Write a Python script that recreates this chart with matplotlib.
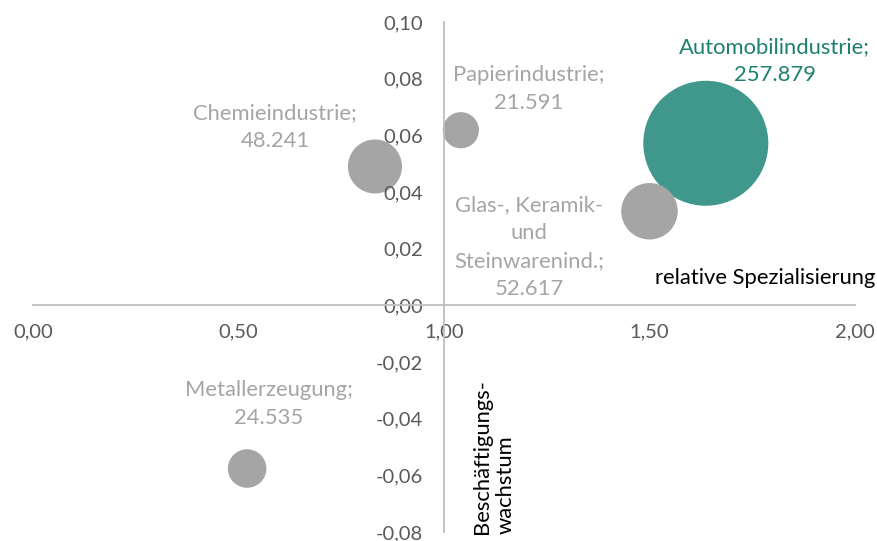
import numpy as np
import matplotlib.pyplot as plt

plt.rcParams['font.family'] = ['Lato', 'DejaVu Sans']

# Branchen: relative Spezialisierung (x), Beschaeftigungswachstum (y), Beschaeftigte (Blasengroesse)
branchen = ['Chemieindustrie', 'Papierindustrie', 'Glas-, Keramik-\nund\nSteinwarenind.',
            'Metallerzeugung', 'Automobilindustrie']
spezialisierung = [0.832, 1.041, 1.50, 0.521, 1.637]
wachstum = [0.0490, 0.0618, 0.0332, -0.0576, 0.0572]
beschaeftigte = [48241, 21591, 52617, 24535, 257879]
farben = ['#A5A5A5', '#A5A5A5', '#A5A5A5', '#A5A5A5', '#40988D']
textfarben = ['#A5A5A5', '#A5A5A5', '#A5A5A5', '#A5A5A5', '#1E8070']

# Versatz der Beschriftungen relativ zur Blase (in Punkten)
label_offset = [(-72, 28.5), (49, 29.5), (-86.5, -25.5), (15.5, 46.5), (49.5, 59)]

W, H = 878, 541
fig = plt.figure(figsize=(W / 100, H / 100), dpi=100)
ax = fig.add_axes([33 / W, 1 - 532 / H, (855 - 33) / W, (532 - 22) / H])

ax.set_xlim(0, 2)
ax.set_ylim(-0.08, 0.10)

# Flaeche proportional zur Anzahl Beschaeftigte
s_max = 8100
groessen = [s_max * b / max(beschaeftigte) for b in beschaeftigte]
order = [4, 0, 1, 2, 3]
for i in order:
    ax.scatter(spezialisierung[i], wachstum[i], s=groessen[i], color=farben[i],
               edgecolors='none', zorder=1)

def fmt(v):
    return f'{v:,}'.replace(',', '.')

for i, name in enumerate(branchen):
    dx, dy = label_offset[i]
    ax.annotate(f'{name};\n{fmt(beschaeftigte[i])}', (spezialisierung[i], wachstum[i]),
                xytext=(dx, dy), textcoords='offset points', ha='center', va='center',
                fontsize=15.8, color=textfarben[i], linespacing=1.5)

# Achsen kreuzen sich bei (1, 0)
for side in ['top', 'right']:
    ax.spines[side].set_visible(False)
ax.spines['left'].set_position(('data', 1.0))
ax.spines['bottom'].set_position(('data', 0.0))
for side in ['left', 'bottom']:
    ax.spines[side].set_color('#BFBFBF')
    ax.spines[side].set_linewidth(1.3)

xticks = np.arange(0, 2.01, 0.5)
yticks = np.arange(-0.08, 0.101, 0.02)
ax.set_xticks(xticks)
ax.set_yticks(yticks)
ax.set_xticklabels([f'{t:.2f}'.replace('.', ',') for t in xticks])
ax.set_yticklabels([f'{t:.2f}'.replace('.', ',').replace('-0,00', '0,00') for t in yticks])
ax.tick_params(axis='both', length=0, labelsize=14.5, colors='#595959')
ax.tick_params(axis='x', pad=13)
ax.tick_params(axis='y', pad=15)

ax.text(875 / W, 1 - 278 / H, 'relative Spezialisierung', transform=fig.transFigure,
        ha='right', va='center', fontsize=15.8, color='black')
ax.text(494 / W, 1 - 457 / H, 'Beschäftigungs-\nwachstum', transform=fig.transFigure,
        ha='center', va='center', rotation=90, fontsize=15.8, color='black',
        multialignment='left', linespacing=1.2)

fig.savefig('out.png', dpi=100)
